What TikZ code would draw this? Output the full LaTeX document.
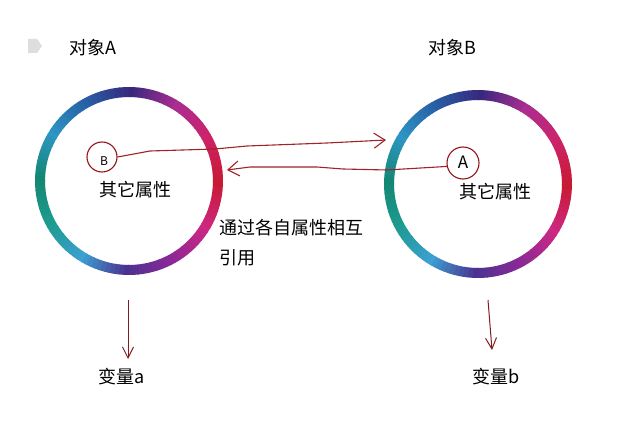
\documentclass[tikz,border=0pt]{standalone}
\usepackage{fontspec}
\setmainfont{Noto Sans CJK SC}
\usetikzlibrary{arrows.meta}
\definecolor{arr}{RGB}{160,35,40}
\definecolor{ringedge}{RGB}{150,20,25}
\definecolor{iconc}{RGB}{222,222,222}
% ring colour stops (TikZ angle, y axis pointing down)
\definecolor{s0}{RGB}{200,25,50}
\definecolor{s1}{RGB}{205,40,130}
\definecolor{s2}{RGB}{140,40,150}
\definecolor{s3}{RGB}{75,50,145}
\definecolor{s4}{RGB}{60,160,210}
\definecolor{s5}{RGB}{30,155,145}
\definecolor{s6}{RGB}{20,135,115}
\definecolor{s7}{RGB}{45,150,195}
\definecolor{s8}{RGB}{40,95,165}
\definecolor{s9}{RGB}{55,40,125}
\definecolor{s10}{RGB}{170,45,145}
\definecolor{s11}{RGB}{205,35,105}
\definecolor{s12}{RGB}{200,25,50}
\begin{document}
\begin{tikzpicture}[x=1pt,y=-1pt,
  txt/.style={inner sep=0pt,font=\fontsize{18}{21}\selectfont},
  small/.style={circle,draw=ringedge,line width=1.1pt,fill=white,minimum size=30pt,inner sep=0pt},
  link/.style={draw=arr,line width=1.1pt,line join=round,-{Straight Barb[length=11pt,width=15pt,line width=1.1pt]}},
  down/.style={draw=arr!80!black,line width=1pt,-{Straight Barb[length=11pt,width=11pt,line width=1pt]}}]
\useasboundingbox (0,0) rectangle (621,430);
\fill[white] (0,0) rectangle (621,430);
% icon
\fill[iconc] (28,39) -- (37,39) -- (42,46) -- (37,53) -- (28,53) -- cycle;
% centres
\coordinate (cA) at (129,181);
\coordinate (cB) at (478,184);
% rings
\foreach \c in {cA,cB}{
  \foreach \i [evaluate=\i as \j using int(\i+1)] in {0,...,11}{
    \foreach \t in {0,...,9}{
      \pgfmathtruncatemacro\p{100-10*\t}
      \pgfmathsetmacro\aa{30*\i+3*\t}
      \draw[line width=10pt,color=s\i!\p!s\j] (\c) ++(\aa:89) arc[start angle=\aa,end angle=\aa+3.5,radius=89];
    }
  }
}
% titles
\node[txt] (tA) at (93,48) {对象A};
\node[txt] (tB) at (452,48) {对象B};
% small circles
\node[small] (nB) at (102,157) {};
\node[inner sep=0pt,font=\fontsize{12}{14}\selectfont] (lB) at (104,161) {B};
\node[small,minimum size=32pt] (nA) at (463,163) {};
\node[inner sep=0pt,font=\fontsize{17}{20}\selectfont] (lA) at (463,162) {A};
% properties
\node[txt] (pA) at (135,190) {其它属性};
\node[txt] (pB) at (495,192) {其它属性};
% links
\coordinate (t1) at (386,140);
\coordinate (t2) at (227,170);
\draw[link] (nB.east) -- (150,151) -- (215,149) -- (247,146) -- (327,143) -- (t1);
\draw[link] (nA.192) -- (387,170) -- (343,169) -- (317,167) -- (250,167) -- (t2);
% middle label
\node[txt,anchor=west] (mid1) at (219,228) {通过各自属性相互};
\node[txt,anchor=west] (mid2) at (219,258) {引用};
% down arrows
\coordinate (d1s) at (128,300);
\coordinate (d1e) at (128,359);
\coordinate (d2s) at (488,300);
\coordinate (d2e) at (492,350);
\draw[down] (d1s) -- (d1e);
\draw[down] (d2s) -- (d2e);
\node[txt] (va) at (122,377) {变量a};
\node[txt] (vb) at (496,377) {变量b};
\end{tikzpicture}
\end{document}
